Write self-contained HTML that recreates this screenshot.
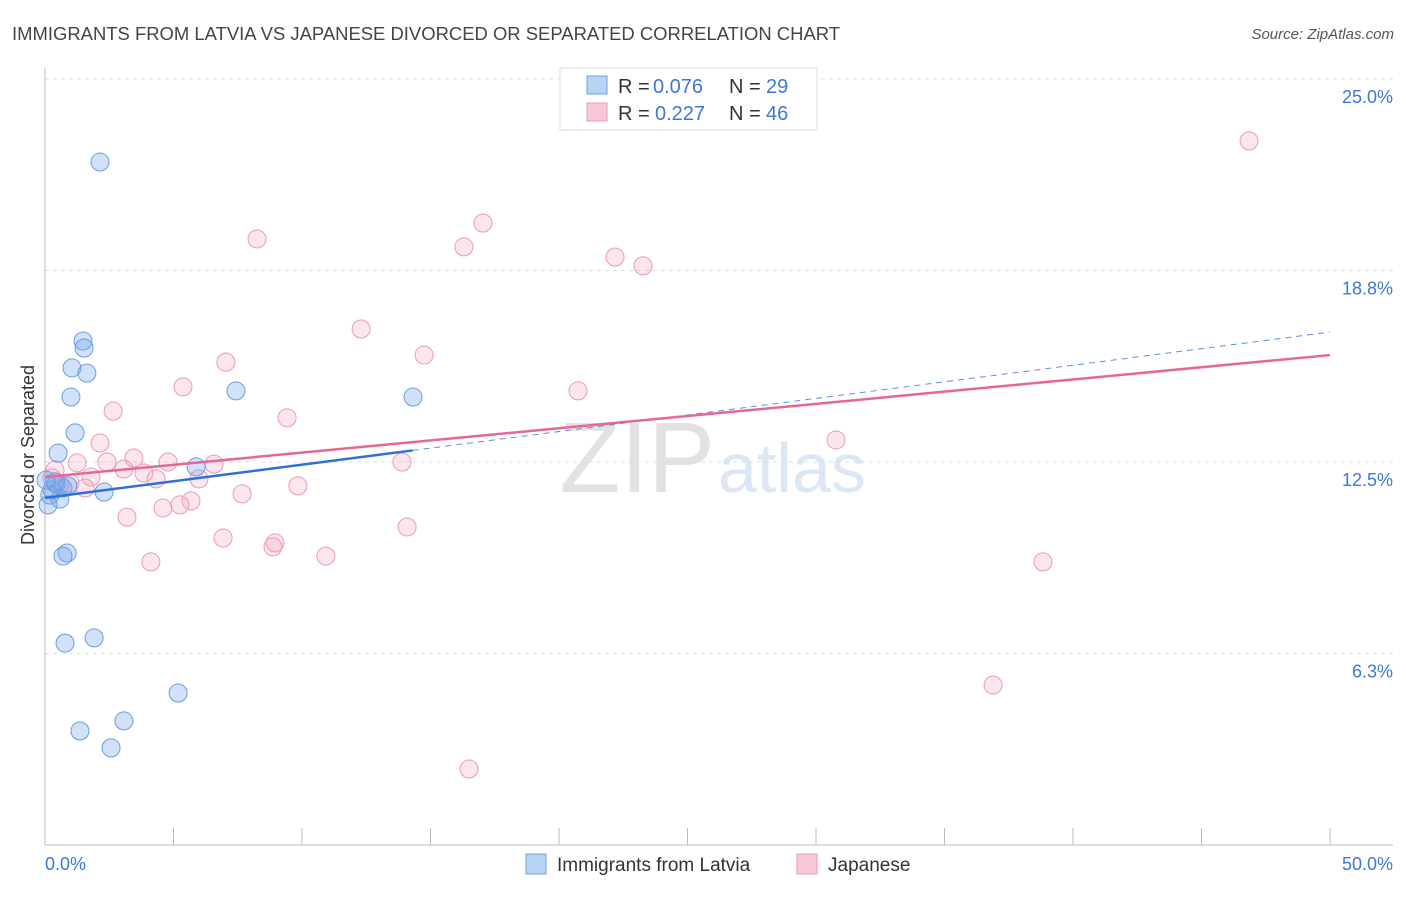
<!DOCTYPE html>
<html><head><meta charset="utf-8"><style>
body{margin:0;background:#fff;font-family:"Liberation Sans",sans-serif;}
svg text{font-family:"Liberation Sans",sans-serif;}
</style></head><body>
<svg id="chart" width="1406" height="892">
<text x="12" y="40" font-size="18" fill="#444" textLength="828" lengthAdjust="spacingAndGlyphs">IMMIGRANTS FROM LATVIA VS JAPANESE DIVORCED OR SEPARATED CORRELATION CHART</text>
<text x="1394" y="39" font-size="15" fill="#555" font-style="italic" text-anchor="end">Source: ZipAtlas.com</text>
<text x="715" y="492" font-size="100" fill="#e2e2e2" text-anchor="end" font-family="Liberation Serif">ZIP</text>
<text x="718" y="492" font-size="70" fill="#dbe7f5">atlas</text>
<text transform="translate(34,455) rotate(-90)" font-size="18" fill="#333" text-anchor="middle">Divorced or Separated</text>
<g id="grid"></g><g id="marks"></g>
<g>
<rect x="560" y="68" width="257" height="62" fill="#fff" stroke="#ddd"/>
<rect x="587" y="76" width="20" height="18" fill="#b8d4f5" stroke="#6fa0dd"/>
<rect x="587" y="103" width="20" height="18" fill="#f9c8d7" stroke="#eb9ab4"/>
<text x="618" y="93" font-size="20" fill="#333">R =</text>
<text x="653" y="93" font-size="20" fill="#3b78d8">0.076</text>
<text x="729" y="93" font-size="20" fill="#333">N =</text>
<text x="766" y="93" font-size="20" fill="#3b78d8">29</text>
<text x="618" y="120" font-size="20" fill="#333">R =</text>
<text x="655" y="120" font-size="20" fill="#3b78d8">0.227</text>
<text x="729" y="120" font-size="20" fill="#333">N =</text>
<text x="766" y="120" font-size="20" fill="#3b78d8">46</text>
</g>
<g>
<rect x="526" y="854" width="20" height="20" fill="#b8d4f5" stroke="#6fa0dd"/>
<text x="557" y="871" font-size="19" fill="#333">Immigrants from Latvia</text>
<rect x="797" y="854" width="20" height="20" fill="#f9c8d7" stroke="#eb9ab4"/>
<text x="828" y="871" font-size="19" fill="#333">Japanese</text>
</g>
</svg>
<script>
const blueX=[2.14,1.48,1.52,1.05,1.63,1.01,1.17,0.51,7.43,14.32,5.88,2.30,0.12,0.27,0.43,0.58,0.70,0.89,0.39,0.86,0.70,1.91,0.78,5.18,3.07,1.36,2.57,0.19,0.04];
const blueY=[22.29,16.45,16.22,15.57,15.40,14.62,13.45,12.79,14.82,14.62,12.34,11.52,11.10,11.59,11.78,11.29,11.65,11.72,11.85,9.53,9.43,6.76,6.59,4.96,4.05,3.72,3.17,11.42,11.91];
const pinkX=[46.85,8.25,17.04,16.30,22.18,23.27,12.30,14.75,7.04,5.37,20.74,2.65,9.42,30.78,2.14,1.25,2.41,3.46,3.07,4.79,6.58,13.89,3.85,4.32,1.79,5.99,9.84,0.39,0.97,1.56,7.67,5.68,5.25,4.59,3.19,14.09,6.93,8.95,8.87,10.93,4.12,38.83,36.89,16.50,0.58,0.27];
const pinkY=[22.98,19.78,20.30,19.52,19.19,18.90,16.84,15.99,15.76,14.95,14.82,14.16,13.94,13.22,13.12,12.47,12.50,12.63,12.27,12.50,12.43,12.50,12.14,11.95,12.01,11.95,11.72,12.24,11.81,11.65,11.46,11.23,11.10,11.00,10.70,10.38,10.02,9.86,9.73,9.43,9.24,9.24,5.22,2.48,11.75,11.98];
const blueLine=[11.33,16.74];
const pinkLine=[12.01,15.99];
const yTicks=[25.0,18.8,12.5,6.3];
const yTickVals=[25,18.75,12.5,6.25];
const xTickLabels=["0.0%","50.0%"];
const NS="http://www.w3.org/2000/svg";
const X=v=>45+v/50*1285, Y=v=>845-v/25*766;
function mk(t,a,p){const e=document.createElementNS(NS,t);for(const k in a)e.setAttribute(k,a[k]);p.appendChild(e);return e;}
const grid=document.getElementById('grid'),marks=document.getElementById('marks');
yTickVals.forEach((v,i)=>{
 const l=mk('line',{x1:45,x2:1393,y1:Y(v),y2:Y(v),stroke:'#ddd','stroke-dasharray':'4,4'},grid);
 
 
 const t=mk('text',{x:1393,y:Y(v)+24,'font-size':18,fill:'#3b78d8','text-anchor':'end'},grid);
 t.textContent=yTicks[i].toFixed(1)+'%';
 
 
});
const ax=mk('line',{x1:45,x2:1393,y1:845,y2:845,stroke:'#bbb'},grid);


const ay=mk('line',{x1:45,x2:45,y1:68,y2:845,stroke:'#bbb'},grid);


for(let i=0;i<=10;i++){const t=mk('line',{x1:X(i*5),x2:X(i*5),y1:828,y2:845,stroke:'#bbb'},grid);
 
 }
[[0,'start'],[50,'end']].forEach((d,i)=>{const t=mk('text',{x:i?1393:45,y:870,'font-size':18,fill:'#3b78d8','text-anchor':d[1]},grid);
 t.textContent=xTickLabels[i];
 
 });
function pts(xs,ys,fill,stroke,name){xs.forEach((x,i)=>{const c=mk('circle',{cx:X(x),cy:Y(ys[i]),r:9,fill:fill,stroke:stroke,'stroke-width':1},marks);
 
 });}
pts(pinkX,pinkY,'rgba(244,165,192,0.28)','#eb9ab4','japanese-point');
pts(blueX,blueY,'rgba(120,170,235,0.35)','#6a9de0','latvia-point');
const bx=14.3, by=blueLine[0]+(blueLine[1]-blueLine[0])*bx/50;
let l=mk('line',{x1:X(0),y1:Y(blueLine[0]),x2:X(bx),y2:Y(by),stroke:'#2f6fd6','stroke-width':2.5},marks);


l=mk('line',{x1:X(bx),y1:Y(by),x2:X(50),y2:Y(blueLine[1]),stroke:'#5b8fd8','stroke-width':1,'stroke-dasharray':'6,5'},marks);


l=mk('line',{x1:X(0),y1:Y(pinkLine[0]),x2:X(50),y2:Y(pinkLine[1]),stroke:'#e5679a','stroke-width':2.5},marks);


</script>
</body></html>
